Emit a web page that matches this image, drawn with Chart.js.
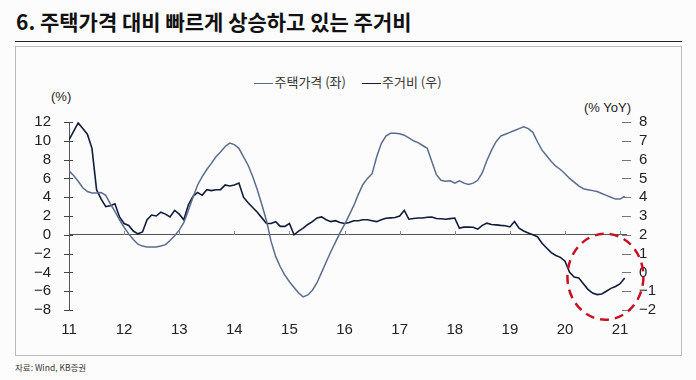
<!DOCTYPE html>
<html>
<head>
<meta charset="utf-8">
<script src="https://cdn.jsdelivr.net/npm/chart.js@4"></script>
<style>
  body { margin: 0; background: #fdfcfd; }
  #wrap { position: relative; width: 696px; height: 380px; overflow: hidden; }
  #title { position: absolute; left: 16px; top: 6px; font: 700 21px "Noto Sans CJK KR", sans-serif; color: #111; white-space: nowrap; }
  #rule { position: absolute; left: 15px; top: 41px; width: 667px; height: 0; border-top: 1.5px solid #222; }
  #frame { position: absolute; left: 15px; top: 46px; width: 667px; height: 310px; border: 1px solid #bbb; box-sizing: border-box; }
  #source { position: absolute; left: 15px; top: 361px; font: 8.5px "Noto Sans CJK KR", sans-serif; color: #333; }
  .unit { position: absolute; font: 13px "Liberation Sans", sans-serif; color: #222; }
  #legend { position: absolute; left: 0; width: 696px; top: 72px; text-align: center; font: 13px "Noto Sans CJK KR", sans-serif; color: #333; }
  #legend span.item { margin: 0 8px; }
  #legend span.key { display: inline-block; width: 19px; height: 0; border-top: 1.5px solid; vertical-align: middle; margin-right: 1px; }
  canvas { position: absolute; left: 0; top: 0; }
</style>
</head>
<body>
<div id="wrap">
  <div id="title">6. 주택가격 대비 빠르게 상승하고 있는 주거비</div>
  <div id="rule"></div>
  <div id="frame"></div>
  <div id="legend"></div>
  <div class="unit" style="left:51px; top:89px;">(%)</div>
  <div class="unit" style="left:584px; top:100px;">(% YoY)</div>
  <div id="source">자료: Wind, KB증권</div>
  <canvas id="chart" width="696" height="380"></canvas>
</div>
<script>
// monthly, Jan 2011 .. Feb 2021
const yearLabels = ['11', '12', '13', '14', '15', '16', '17', '18', '19', '20', '21'];

// 주택가격 (좌), %
const housePrice = [
  6.8, 6.3, 5.7, 5.0, 4.6, 4.45, 4.45, 4.5, 4.2, 3.3, 2.5, 1.6,
  0.8, 0.1, -0.5, -1.0, -1.2, -1.3, -1.3, -1.3, -1.2, -1.05, -0.6, -0.1,
  0.5, 1.3, 2.6, 4.0, 5.3, 6.2, 6.95, 7.6, 8.3, 8.8, 9.4, 9.75,
  9.6, 9.2, 8.3, 7.4, 6.2, 4.8, 3.2, 1.5, -0.7, -2.3, -3.4, -4.3,
  -5.0, -5.6, -6.2, -6.6, -6.4, -5.9, -5.1, -4.0, -2.9, -1.8, -0.8, 0.2,
  1.1, 2.1, 3.1, 4.3, 5.35, 6.0, 6.5, 8.3, 9.7, 10.5, 10.8, 10.8,
  10.75, 10.6, 10.3, 10.0, 9.8, 9.5, 9.2, 7.8, 6.4, 5.8, 5.7, 5.75,
  5.5, 5.75, 5.5, 5.35, 5.5, 5.8, 6.6, 7.9, 9.0, 9.9, 10.5, 10.7,
  10.9, 11.1, 11.3, 11.5, 11.3, 10.9, 9.9, 9.0, 8.4, 7.8, 7.3, 6.95,
  6.5, 6.0, 5.6, 5.2, 4.9, 4.8, 4.7, 4.6, 4.4, 4.2, 4.0, 3.8,
  3.8, 4.1
];

// 주거비 (우), % YoY
const housingCost = [
  7.05, 7.5, 7.95, 7.65, 7.35, 6.6, 4.4, 3.9, 3.5, 3.55, 3.65, 2.95,
  2.6, 2.5, 2.2, 2.05, 2.15, 2.8, 3.05, 3.0, 3.2, 3.1, 2.95, 3.3,
  3.1, 2.8, 3.6, 4.05, 4.25, 4.1, 4.4, 4.35, 4.4, 4.4, 4.65, 4.6,
  4.65, 4.75, 4.0, 3.7, 3.45, 3.2, 2.9, 2.6, 2.6, 2.7, 2.45, 2.45,
  2.6, 2.0, 2.2, 2.35, 2.55, 2.7, 2.9, 2.95, 2.8, 2.7, 2.75, 2.65,
  2.6, 2.65, 2.75, 2.75, 2.8, 2.8, 2.75, 2.7, 2.8, 2.88, 2.9, 2.92,
  3.0, 3.3, 2.83, 2.87, 2.89, 2.89, 2.93, 2.95, 2.87, 2.85, 2.83, 2.86,
  2.89, 2.36, 2.41, 2.41, 2.4, 2.3, 2.5, 2.62, 2.55, 2.53, 2.5, 2.48,
  2.42, 2.71, 2.35, 2.2, 2.1, 2.0, 1.9, 1.55, 1.3, 1.05, 0.9, 0.8,
  0.6, 0.0, -0.25, -0.3, -0.6, -0.9, -1.1, -1.18, -1.15, -1.0, -0.85, -0.75,
  -0.6, -0.3
];

const leftTicks = [-8, -6, -4, -2, 0, 2, 4, 6, 8, 10, 12];
const rightTicks = [-2, -1, 0, 1, 2, 3, 4, 5, 6, 7, 8];
// red dashed ring round the latest months (month index, right-axis value)
const highlight = { x: 116.8, y: -0.23 };

const seriesNames = ['주택가격 (좌)', '주거비 (우)'];
const seriesColors = ['#5b6d8c', '#111c3a'];

const toPoints = arr => arr.map((v, i) => ({ x: i, y: v }));
const fmtTick = v => String(v).replace('-', '\u2212');

document.getElementById('legend').innerHTML = seriesNames.map((n, i) =>
  '<span class="item"><span class="key" style="border-color:' + seriesColors[i] + '"></span>' + n + '</span>'
).join('');

const crossTicks = {
  id: 'crossTicks',
  afterDraw(chart) {
    const ctx = chart.ctx;
    const { left, right } = chart.chartArea;
    const x = chart.scales.x, yL = chart.scales.yL, yR = chart.scales.yR;
    ctx.save();
    ctx.lineWidth = 1;
    const seg = (x1, y1, x2, y2) => { ctx.beginPath(); ctx.moveTo(x1, y1); ctx.lineTo(x2, y2); ctx.stroke(); };
    ctx.strokeStyle = '#444';
    yL.ticks.forEach(t => { const p = Math.round(yL.getPixelForValue(t.value)) + 0.5; seg(left - 5, p, left + 4, p); });
    ctx.strokeStyle = '#777';
    yR.ticks.forEach(t => { const p = Math.round(yR.getPixelForValue(t.value)) + 0.5; seg(right - 5, p, right + 4, p); });
    const z = Math.round(yL.getPixelForValue(0));
    ctx.strokeStyle = '#888';
    x.ticks.forEach(t => {
      if (t.value === 0) return;
      const p = Math.round(x.getPixelForValue(t.value)) + 0.5;
      seg(p, z - 4, p, z);
    });
    ctx.strokeStyle = '#c8101e';
    ctx.lineWidth = 2.5;
    ctx.setLineDash([9, 6]);
    ctx.beginPath();
    ctx.ellipse(x.getPixelForValue(highlight.x), yR.getPixelForValue(highlight.y), 38, 43, 0, 0, Math.PI * 2);
    ctx.stroke();
    ctx.restore();
  }
};

const tickFont = { family: 'Liberation Sans', size: 15 };

new Chart(document.getElementById('chart'), {
  type: 'line',
  data: {
    datasets: [{
      label: seriesNames[0],
      data: toPoints(housePrice),
      yAxisID: 'yL',
      borderColor: seriesColors[0],
      borderWidth: 1.5,
      pointRadius: 0,
      tension: 0
    }, {
      label: seriesNames[1],
      data: toPoints(housingCost),
      yAxisID: 'yR',
      borderColor: seriesColors[1],
      borderWidth: 1.6,
      pointRadius: 0,
      tension: 0
    }]
  },
  options: {
    responsive: false,
    animation: false,
    devicePixelRatio: 1,
    layout: { padding: { top: 122, left: 0, right: 0, bottom: 0 } },
    plugins: { legend: { display: false }, tooltip: { enabled: false } },
    scales: {
      x: {
        type: 'linear',
        min: 0,
        max: 121.5,
        afterBuildTicks: s => { s.ticks = yearLabels.map((_, i) => ({ value: i * 12 })); },
        afterFit: s => { s.height = 70; },
        grid: { display: false, drawTicks: false },
        border: { display: false },
        ticks: {
          autoSkip: false,
          maxRotation: 0,
          padding: 11,
          color: '#222',
          font: tickFont,
          callback: v => yearLabels[Math.round(v / 12)]
        }
      },
      yL: {
        position: 'left',
        min: -8,
        max: 12,
        afterBuildTicks: s => { s.ticks = leftTicks.map(v => ({ value: v })); },
        afterFit: s => { s.width = 69; },
        grid: {
          drawTicks: false,
          color: c => (c.tick && c.tick.value === 0 ? '#555' : 'rgba(0,0,0,0)'),
          lineWidth: 1
        },
        border: { color: '#555', width: 1 },
        ticks: { autoSkip: false, padding: 18, color: '#222', font: tickFont, callback: fmtTick }
      },
      yR: {
        position: 'right',
        min: -2,
        max: 8,
        afterBuildTicks: s => { s.ticks = rightTicks.map(v => ({ value: v })); },
        afterFit: s => { s.width = 69; },
        grid: { drawOnChartArea: false, drawTicks: false },
        border: { display: false },
        ticks: { autoSkip: false, padding: 12, color: '#222', font: tickFont, callback: fmtTick }
      }
    }
  },
  plugins: [crossTicks]
});
</script>
</body>
</html>
